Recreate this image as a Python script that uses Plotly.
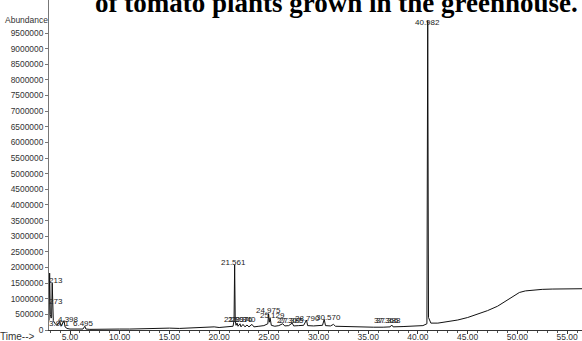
import plotly.graph_objects as go

# Retention time (min) and abundance of the chromatogram trace
time_min = [2.89, 2.95, 3.02, 3.10, 3.15, 3.21, 3.25, 3.273, 3.32, 3.50, 3.70, 3.971, 4.10,
            4.398, 4.50, 4.70, 5.00, 5.50, 6.30, 6.495, 6.60, 7.0, 8.0, 9.0, 10.0, 11.0,
            12.0, 13.0, 14.0, 15.0, 16.0, 17.0, 18.0, 19.0, 19.5, 20.0, 20.5, 21.0, 21.4,
            21.50, 21.561, 21.62, 21.70, 21.80, 21.90, 22.10, 22.20, 22.40, 22.60, 22.80,
            23.0, 23.3, 23.5, 24.0, 24.5, 24.9, 24.975, 25.05, 25.129, 25.25, 25.6, 26.0,
            26.4, 26.6, 27.0, 27.35, 27.5, 28.0, 28.5, 28.79, 28.9, 29.5, 30.0, 30.4,
            30.57, 30.7, 31.2, 31.5, 31.7, 32.5, 33.5, 34.5, 35.5, 36.5, 37.2, 37.36, 37.5,
            38.5, 39.5, 40.5, 40.9, 40.982, 41.06, 41.3, 42.0, 43.0, 44.0, 45.0, 46.0,
            47.0, 48.0, 49.0, 49.6, 50.2, 50.8, 51.5, 52.5, 53.5, 54.5, 55.5, 56.5]
abundance = [300000, 1820000, 500000, 380000, 420000, 1500000, 500000, 850000, 300000,
             200000, 150000, 280000, 120000, 300000, 100000, 50000, 30000, 30000, 30000,
             120000, 30000, 20000, 30000, 20000, 30000, 30000, 40000, 60000, 50000, 60000,
             50000, 60000, 70000, 80000, 100000, 80000, 90000, 100000, 120000, 300000,
             2080000, 300000, 150000, 220000, 120000, 200000, 100000, 180000, 100000,
             160000, 100000, 180000, 100000, 120000, 140000, 200000, 520000, 250000,
             380000, 150000, 120000, 140000, 200000, 130000, 140000, 220000, 130000,
             140000, 150000, 320000, 140000, 130000, 130000, 150000, 340000, 140000,
             130000, 180000, 120000, 110000, 100000, 90000, 90000, 90000, 100000, 160000,
             100000, 110000, 120000, 140000, 200000, 9900000, 400000, 220000, 220000,
             260000, 320000, 400000, 500000, 620000, 760000, 950000, 1080000, 1200000,
             1250000, 1280000, 1300000, 1310000, 1310000, 1320000, 1320000]

# Peak labels as printed on the chromatogram
peak_labels = ["40.982", "21.561", "213", "273", "4.398", "3.971", "6.495",
               "21.897", "22.076", "22.340", "24.975", "25.129", "27.307", "27.385",
               "28.790", "30.570", "37.366", "37.388"]
label_time = [40.982, 21.45, 3.59, 3.59, 4.80, 3.99, 6.31,
              21.70, 22.10, 22.50, 24.92, 25.32, 27.03, 27.23,
              28.84, 30.96, 36.79, 36.99]
label_abund = [9850000, 2175000, 1570000, 900000, 350000, 220000, 220000,
               350000, 350000, 350000, 610000, 450000, 320000, 320000,
               380000, 410000, 320000, 320000]

y_ticks = list(range(0, 10000000, 500000))
x_ticks = [5, 10, 15, 20, 25, 30, 35, 40, 45, 50, 55]

fig = go.Figure()
fig.add_trace(go.Scatter(x=time_min, y=abundance, mode="lines",
                         line=dict(color="#111111", width=1), hoverinfo="skip",
                         showlegend=False))

for txt, tx, ay in zip(peak_labels, label_time, label_abund):
    fig.add_annotation(x=tx, y=ay, xref="x", yref="y", text=txt, showarrow=False,
                       font=dict(family="Liberation Sans", size=8, color="#222222"),
                       xanchor="center", yanchor="middle")

fig.add_annotation(xref="paper", yref="paper", x=0, y=0.962, xanchor="right", xshift=1,
                   text="Abundance", showarrow=False,
                   font=dict(family="Liberation Sans", size=8.5, color="#333333"))
fig.add_annotation(xref="paper", yref="paper", x=0, y=-0.021, xanchor="right", xshift=-12,
                   yanchor="middle", text="Time-->", showarrow=False,
                   font=dict(family="Liberation Sans", size=10, color="#333333"))
fig.add_annotation(xref="paper", yref="paper", x=0.5385, y=1.0, yanchor="bottom", yshift=-20,
                   text="<b>of tomato plants grown in the greenhouse.</b>", showarrow=False,
                   font=dict(family="Liberation Serif", size=27, color="#000000"))

fig.update_layout(
    width=582, height=341,
    margin=dict(l=49, r=0, t=0, b=11),
    paper_bgcolor="white", plot_bgcolor="white",
    xaxis=dict(range=[2.887, 56.5], tickvals=x_ticks, tickformat=".2f", automargin=False,
               showgrid=False, zeroline=False, showline=True, linecolor="#333333",
               linewidth=1, ticks="outside", ticklen=3, tickcolor="#333333",
               ticklabelstandoff=-4,
               minor=dict(dtick=1, tick0=0, ticks="outside", ticklen=2, tickcolor="#555555"),
               tickfont=dict(family="Liberation Sans", size=8.5, color="#333333")),
    yaxis=dict(range=[0, 10556000], tickvals=y_ticks, tickformat="d", automargin=False,
               showgrid=False, zeroline=False, showline=True, linecolor="#777777",
               linewidth=1, ticks="outside", ticklen=3, tickcolor="#777777",
               tickfont=dict(family="Liberation Sans", size=8.4, color="#333333")),
)

fig.write_html("out.html", config={"displayModeBar": False},
               post_script="document.body.style.margin='0';document.body.style.overflow='hidden';")
